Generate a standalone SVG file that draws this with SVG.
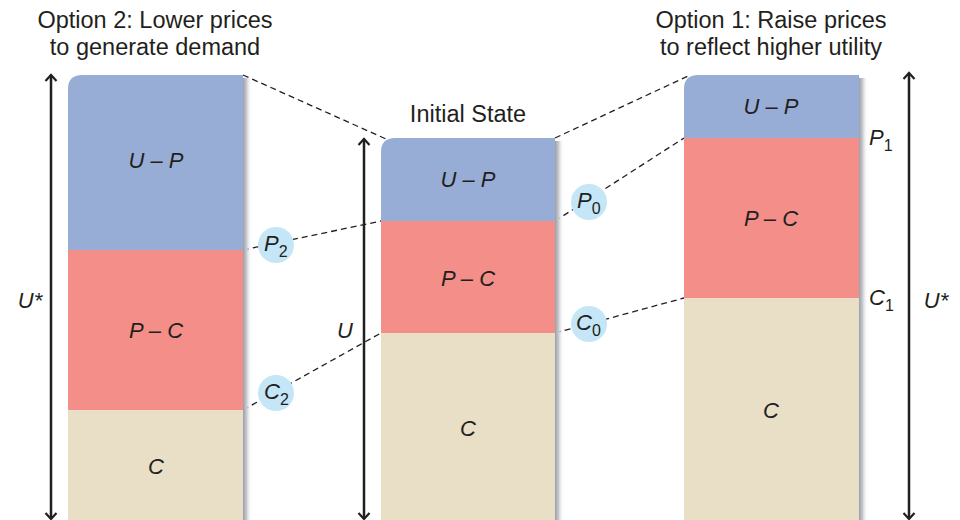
<svg xmlns="http://www.w3.org/2000/svg" width="960" height="520" viewBox="0 0 960 520">
<defs>
<linearGradient id="sh" x1="0" x2="1" y1="0" y2="0">
<stop offset="0" stop-color="#9a9ea6"/>
<stop offset="0.4" stop-color="#c8cbd0"/>
<stop offset="1" stop-color="#ffffff" stop-opacity="0"/>
</linearGradient>
<marker id="ah" viewBox="0 0 14 14" refX="12" refY="7" markerWidth="14" markerHeight="14" orient="auto-start-reverse" markerUnits="userSpaceOnUse">
<path d="M6,1.5 L12,7 L6,12.5" fill="none" stroke="#231f20" stroke-width="2.2"/>
</marker>
</defs>
<style>
.t{font-family:"Liberation Sans",Arial,sans-serif;font-size:23.5px;fill:#231f20}
.i{font-family:"Liberation Sans",Arial,sans-serif;font-size:22px;font-style:italic;fill:#231f20}
.s{font-size:16px;font-style:normal}
.up{fill:#97add6}.pc{fill:#f48e89}.c{fill:#e8dfc6}
.d{stroke:#231f20;stroke-width:1.3;stroke-dasharray:6,4;fill:none}
.ar{stroke:#231f20;stroke-width:2.5;fill:none;marker-start:url(#ah);marker-end:url(#ah)}
.bub{fill:#c4e6f6}
</style>
<g id="connectors">
<line class="d" x1="243" y1="75" x2="386" y2="139"/>
<line class="d" x1="555" y1="138" x2="688" y2="76"/>
<line class="d" x1="243" y1="250" x2="381" y2="221"/>
<line class="d" x1="243" y1="410" x2="381" y2="333"/>
<line class="d" x1="555" y1="221" x2="684" y2="138"/>
<line class="d" x1="555" y1="333" x2="684" y2="298"/>
</g>
<g id="title-left">
<text class="t" x="155" y="28" text-anchor="middle">Option 2: Lower prices</text>
<text class="t" x="155" y="55" text-anchor="middle">to generate demand</text>
</g>
<g id="title-right">
<text class="t" x="771" y="28" text-anchor="middle">Option 1: Raise prices</text>
<text class="t" x="771" y="55" text-anchor="middle">to reflect higher utility</text>
</g>
<g id="title-mid">
<text class="t" x="468" y="122" text-anchor="middle">Initial State</text>
</g>
<g id="col-left">
<rect x="243" y="78" width="9" height="442" fill="url(#sh)"/>
<path class="up" d="M68,250 V89 Q68,75 82,75 H243 V250 Z"/>
<rect class="pc" x="68" y="250" width="175" height="160"/>
<rect class="c" x="68" y="410" width="175" height="110"/>
<text class="i" x="156" y="168" text-anchor="middle">U – P</text>
<text class="i" x="156" y="338" text-anchor="middle">P – C</text>
<text class="i" x="156" y="474" text-anchor="middle">C</text>
</g>
<g id="col-mid">
<rect x="555" y="141" width="9" height="379" fill="url(#sh)"/>
<path class="up" d="M381,221 V152 Q381,138 395,138 H555 V221 Z"/>
<rect class="pc" x="381" y="221" width="174" height="112"/>
<rect class="c" x="381" y="333" width="174" height="187"/>
<text class="i" x="468" y="187" text-anchor="middle">U – P</text>
<text class="i" x="468" y="286" text-anchor="middle">P – C</text>
<text class="i" x="468" y="436" text-anchor="middle">C</text>
</g>
<g id="col-right">
<rect x="859" y="78" width="9" height="442" fill="url(#sh)"/>
<path class="up" d="M684,138 V89 Q684,75 698,75 H859 V138 Z"/>
<rect class="pc" x="684" y="138" width="175" height="160"/>
<rect class="c" x="684" y="298" width="175" height="222"/>
<text class="i" x="771" y="114" text-anchor="middle">U – P</text>
<text class="i" x="771" y="226" text-anchor="middle">P – C</text>
<text class="i" x="771" y="418" text-anchor="middle">C</text>
</g>
<g id="arrow-left">
<line class="ar" x1="51" y1="75" x2="51" y2="519"/>
<text class="i" x="30" y="308" text-anchor="middle">U*</text>
</g>
<g id="arrow-mid">
<line class="ar" x1="364" y1="139" x2="364" y2="519"/>
<text class="i" x="345" y="338" text-anchor="middle">U</text>
</g>
<g id="arrow-right">
<line class="ar" x1="909" y1="73" x2="909" y2="519"/>
<text class="i" x="936" y="308" text-anchor="middle">U*</text>
</g>
<g id="bubble-p2">
<circle class="bub" cx="276" cy="245" r="18"/>
<text class="i" x="264" y="251">P<tspan class="s" dy="6">2</tspan></text>
</g>
<g id="bubble-c2">
<circle class="bub" cx="276" cy="393" r="18"/>
<text class="i" x="264" y="399">C<tspan class="s" dy="6">2</tspan></text>
</g>
<g id="bubble-p0">
<circle class="bub" cx="589" cy="202" r="18"/>
<text class="i" x="577" y="208">P<tspan class="s" dy="6">0</tspan></text>
</g>
<g id="bubble-c0">
<circle class="bub" cx="589" cy="324" r="18"/>
<text class="i" x="576" y="330">C<tspan class="s" dy="6">0</tspan></text>
</g>
<g id="label-p1">
<text class="i" x="869" y="145">P<tspan class="s" dy="6">1</tspan></text>
</g>
<g id="label-c1">
<text class="i" x="869" y="305">C<tspan class="s" dy="6">1</tspan></text>
</g>
</svg>
